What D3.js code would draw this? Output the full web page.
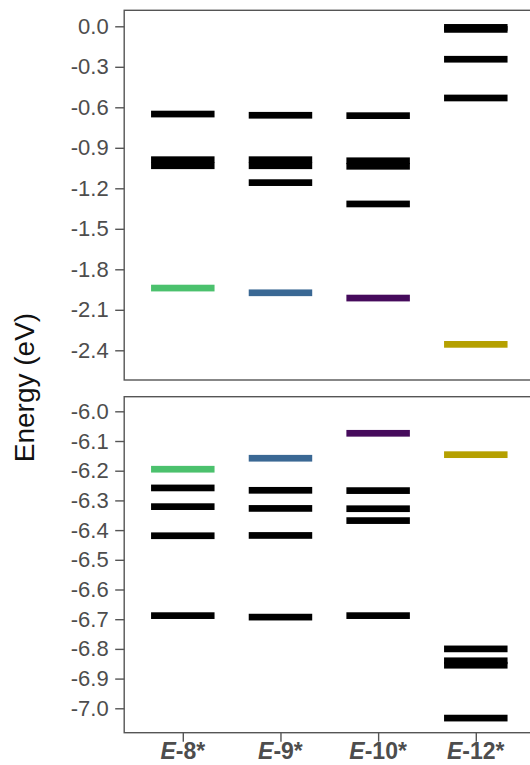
<!DOCTYPE html>
<html>
<head>
<meta charset="utf-8">
<script src="https://cdn.jsdelivr.net/npm/d3@7"></script>
<style>
  html, body { margin: 0; padding: 0; background: #fff; }
  svg { display: block; }
  text { font-family: "Liberation Sans", Arial, Helvetica, sans-serif; }
</style>
</head>
<body>
<svg id="chart" width="530" height="765"></svg>
<script>
// ---- data ----
const categories = ["8*", "9*", "10*", "12*"];
const frontierColors = ["#4BC16D", "#3A6894", "#460B5C", "#B5A000"];
// unoccupied levels (top panel)
const lumo = [-1.939, -1.974, -2.013, -2.356];
const upperLevels = [
  [-0.650, -0.988, -1.033],
  [-0.659, -0.988, -1.033, -1.158],
  [-0.662, -0.996, -1.037, -1.316],
  [-0.008, -0.023, -0.244, -0.531]
];
// occupied levels (bottom panel)
const homo = [-6.195, -6.158, -6.074, -6.146];
const lowerLevels = [
  [-6.258, -6.321, -6.419, -6.688],
  [-6.266, -6.327, -6.418, -6.693],
  [-6.267, -6.328, -6.368, -6.688],
  [-6.800, -6.840, -6.855, -7.033]
];
const topTicks = [0.0, -0.3, -0.6, -0.9, -1.2, -1.5, -1.8, -2.1, -2.4];
const bottomTicks = [-6.0, -6.1, -6.2, -6.3, -6.4, -6.5, -6.6, -6.7, -6.8, -6.9, -7.0];
const yTitle = "Energy (eV)";

// ---- layout ----
const svg = d3.select("#chart");
const left = 124.2, right = 534.4;
const x = d3.scaleLinear().domain([0.4, 4.6]).range([left, right]);
const barHalf = 0.325;
const barThick = 6.7;
const grayText = "#4D4D4D";
const borderCol = "#555";

const panels = [
  { top: 10.3, bottom: 380, domain: [0.1185, -2.620], ticks: topTicks, frontier: lumo, levels: upperLevels, fmt: d3.format(".1f") },
  { top: 396.7, bottom: 732.7, domain: [-5.9508, -7.0822], ticks: bottomTicks, frontier: homo, levels: lowerLevels, fmt: d3.format(".1f") }
];

panels.forEach((p, pi) => {
  const y = d3.scaleLinear().domain(p.domain).range([p.top, p.bottom]);
  const g = svg.append("g");

  // levels
  const flat = [];
  p.levels.forEach((arr, i) => arr.forEach(v => flat.push({ i, v, c: "#000" })));
  p.frontier.forEach((v, i) => flat.push({ i, v, c: frontierColors[i] }));

  g.selectAll("rect.lvl").data(flat).join("rect")
    .attr("class", "lvl")
    .attr("x", d => x(d.i + 1 - barHalf))
    .attr("width", d => x(d.i + 1 + barHalf) - x(d.i + 1 - barHalf))
    .attr("y", d => y(d.v) - barThick / 2)
    .attr("height", barThick)
    .attr("fill", d => d.c);

  // border
  g.append("rect")
    .attr("x", left).attr("y", p.top)
    .attr("width", right - left).attr("height", p.bottom - p.top)
    .attr("fill", "none").attr("stroke", borderCol).attr("stroke-width", 1.4);

  // y axis
  const yAxis = d3.axisLeft(y).tickValues(p.ticks).tickFormat(p.fmt).tickSize(9).tickPadding(6.5);
  const ax = g.append("g").attr("transform", `translate(${left},0)`).call(yAxis);
  ax.select(".domain").remove();
  ax.selectAll(".tick line").attr("stroke", borderCol).attr("stroke-width", 1.4);
  ax.selectAll(".tick text")
    .attr("fill", grayText)
    .style("font-size", "22px")
    .style("font-family", "'Liberation Sans', Arial, sans-serif")
    .text(d => p.fmt(d).replace("−", "-"));

  if (pi === 1) {
    const xAxis = d3.axisBottom(x).tickValues(categories.map((c, i) => i + 1)).tickSize(9).tickFormat(() => "");
    const xa = g.append("g").attr("transform", `translate(0,${p.bottom})`).call(xAxis);
    xa.select(".domain").remove();
    xa.selectAll(".tick line").attr("stroke", borderCol).attr("stroke-width", 1.4);
    const lbl = g.selectAll("text.xl").data(categories).join("text")
      .attr("class", "xl")
      .attr("x", (d, i) => x(i + 1))
      .attr("y", 759)
      .attr("text-anchor", "middle")
      .attr("fill", grayText)
      .style("font-size", "23px")
      .style("font-weight", "bold");
    lbl.append("tspan").style("font-style", "italic").text("E");
    lbl.append("tspan").text(d => "-" + d);
  }
});

// y title
svg.append("text")
  .attr("transform", "translate(34,387.5) rotate(-90)")
  .attr("text-anchor", "middle")
  .attr("fill", "#111")
  .style("font-size", "28px")
  .text(yTitle);
</script>
</body>
</html>
